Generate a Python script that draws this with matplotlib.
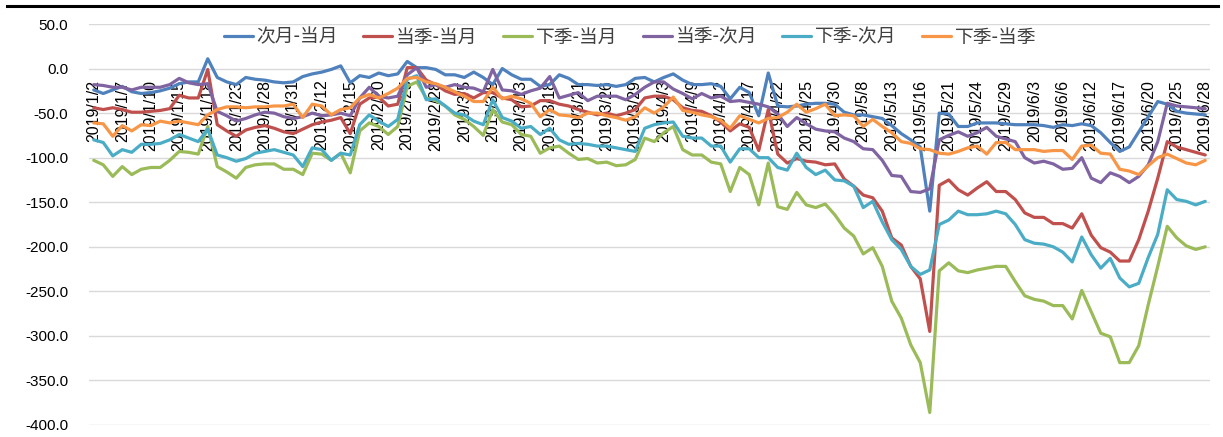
import matplotlib
matplotlib.use("Agg")
import matplotlib.pyplot as plt
from matplotlib.lines import Line2D

# Trading days, first half of 2019
trading_days = {
    1: [2, 3, 4, 7, 8, 9, 10, 11, 14, 15, 16, 17, 18, 21, 22, 23, 24, 25, 28, 29, 30, 31],
    2: [1, 11, 12, 13, 14, 15, 18, 19, 20, 21, 22, 25, 26, 27, 28],
    3: [1, 4, 5, 6, 7, 8, 11, 12, 13, 14, 15, 18, 19, 20, 21, 22, 25, 26, 27, 28, 29],
    4: [1, 2, 3, 4, 8, 9, 10, 11, 12, 15, 16, 17, 18, 19, 22, 23, 24, 25, 26, 29, 30],
    5: [6, 7, 8, 9, 10, 13, 14, 15, 16, 17, 20, 21, 22, 23, 24, 27, 28, 29, 30, 31],
    6: [3, 4, 5, 6, 10, 11, 12, 13, 14, 17, 18, 19, 20, 21, 24, 25, 26, 27, 28],
}
dates = [f"2019/{m}/{d}" for m, days in trading_days.items() for d in days]

next_minus_current = [
    -24, -28, -24, -20, -26, -28, -27, -25, -22, -17, -15, -15, 11, -10, -15, -18,
    -10, -12, -13, -15, -16, -15, -9, -6, -4, -1, 3, -16, -8, -10, -5, -8,
    -6, 8, 1, 1, -1, -7, -7, -10, -4, -10, -18, 0, -7, -12, -12, -20,
    -18, -7, -11, -18, -18, -19, -18, -20, -18, -11, -10, -15, -10, -6, -13, -18,
    -18, -17, -20, -34, -21, -27, -53, -5, -42, -43, -42, -40, -39, -39, -40, -49,
    -52, -52, -54, -56, -64, -73, -80, -88, -160, -50, -51, -65, -65, -61, -61, -61,
    -62, -63, -63, -63, -64, -66, -63, -64, -62, -64, -72, -83, -93, -88, -71, -54,
    -37, -40, -48, -50, -51, -52,
]
quarter_minus_current = [
    -44, -46, -44, -46, -49, -49, -48, -47, -45, -30, -33, -33, -1, -63, -70, -76,
    -69, -66, -64, -67, -71, -73, -68, -63, -60, -58, -55, -73, -40, -33, -32, -42,
    -40, 1, 1, -13, -18, -25, -29, -28, -33, -27, -27, -33, -35, -43, -42, -36,
    -36, -40, -42, -46, -49, -52, -50, -53, -50, -46, -33, -31, -31, -35, -44, -47,
    -48, -53, -60, -70, -62, -66, -92, -46, -96, -106, -101, -104, -105, -108, -107, -124,
    -132, -142, -145, -160, -190, -198, -222, -236, -295, -131, -125, -136, -142, -134, -127, -138,
    -138, -147, -162, -167, -167, -174, -174, -179, -163, -187, -201, -206, -216, -216, -192, -160,
    -123, -82, -88, -91, -94, -97,
]
next_quarter_minus_current = [
    -103, -108, -121, -110, -119, -113, -111, -111, -103, -93, -94, -96, -65, -110, -116, -123,
    -111, -108, -107, -107, -113, -113, -119, -95, -96, -103, -95, -117, -70, -61, -65, -74,
    -65, -20, -15, -33, -36, -42, -52, -57, -65, -75, -46, -60, -63, -74, -76, -95,
    -89, -87, -95, -102, -101, -106, -105, -109, -108, -102, -78, -82, -72, -65, -91, -97,
    -97, -105, -107, -138, -111, -119, -153, -106, -155, -158, -139, -153, -156, -152, -164, -179,
    -188, -208, -201, -222, -261, -280, -310, -330, -386, -227, -218, -227, -229, -226, -224, -222,
    -222, -239, -255, -259, -261, -266, -266, -281, -249, -273, -297, -301, -330, -330, -311, -265,
    -222, -177, -190, -199, -203, -200,
]
quarter_minus_next = [
    -18, -19, -21, -21, -24, -21, -21, -21, -18, -11, -16, -18, -17, -48, -53, -59,
    -56, -52, -49, -50, -54, -56, -54, -50, -53, -52, -50, -53, -33, -21, -31, -33,
    -31, -7, 1, -21, -18, -21, -18, -21, -22, -26, -1, -24, -25, -29, -25, -22,
    -9, -33, -30, -27, -36, -31, -31, -31, -35, -29, -21, -15, -15, -23, -28, -34,
    -28, -33, -31, -37, -36, -38, -40, -43, -51, -65, -55, -62, -68, -70, -71, -78,
    -82, -90, -91, -103, -120, -121, -138, -139, -135, -80, -75, -71, -76, -72, -66, -76,
    -79, -82, -100, -106, -104, -107, -113, -112, -100, -123, -128, -117, -121, -128, -121, -108,
    -82, -39, -42, -43, -44, -45,
]
next_quarter_minus_next = [
    -80, -83, -98, -91, -94, -85, -85, -84, -80, -74, -78, -82, -68, -97, -100, -104,
    -101, -95, -93, -91, -94, -97, -110, -89, -91, -103, -95, -97, -63, -52, -59, -65,
    -57, -12, -8, -35, -34, -42, -50, -52, -59, -63, -35, -55, -59, -67, -65, -74,
    -67, -80, -85, -84, -85, -87, -87, -89, -91, -93, -67, -63, -61, -60, -76, -78,
    -78, -87, -87, -105, -90, -90, -100, -100, -111, -114, -95, -111, -119, -114, -125, -126,
    -132, -156, -149, -172, -192, -203, -222, -231, -226, -175, -170, -160, -164, -164, -163, -160,
    -163, -175, -192, -196, -197, -200, -206, -217, -189, -209, -224, -213, -235, -245, -241, -212,
    -186, -136, -147, -149, -153, -149,
]
next_quarter_minus_quarter = [
    -61, -62, -76, -64, -70, -63, -64, -59, -61, -59, -61, -63, -52, -46, -43, -43,
    -44, -43, -43, -42, -42, -40, -55, -40, -42, -52, -46, -44, -33, -29, -33, -28,
    -22, -11, -10, -15, -17, -21, -26, -31, -37, -37, -21, -34, -31, -34, -39, -54,
    -46, -52, -53, -55, -50, -50, -53, -55, -58, -54, -44, -50, -43, -32, -47, -49,
    -52, -54, -58, -67, -53, -57, -61, -56, -55, -49, -40, -49, -45, -40, -53, -52,
    -53, -65, -57, -65, -72, -82, -84, -90, -91, -95, -96, -93, -89, -87, -96, -83,
    -83, -91, -91, -91, -93, -92, -92, -102, -87, -86, -95, -96, -113, -115, -119, -109,
    -100, -96, -101, -106, -108, -103,
]

series_names = ["次月-当月", "当季-当月", "下季-当月", "当季-次月", "下季-次月", "下季-当季"]
series_values = [
    next_minus_current, quarter_minus_current, next_quarter_minus_current,
    quarter_minus_next, next_quarter_minus_next, next_quarter_minus_quarter,
]
series_colors = ["#4F81BD", "#C0504D", "#9BBB59", "#8064A2", "#4BACC6", "#F79646"]

y_ticks = [50, 0, -50, -100, -150, -200, -250, -300, -350, -400]
label_step = 3

W, H = 1223, 437
fig = plt.figure(figsize=(W / 100, H / 100), dpi=100)
fig.patch.set_facecolor("white")
ax = fig.add_axes([89 / W, 12 / H, (1210 - 89) / W, (425 - 24) / H])

x = list(range(len(dates)))
for name, vals, col in zip(series_names, series_values, series_colors):
    ax.plot(x, vals, color=col, lw=2.3, label=name, solid_joinstyle="round",
            solid_capstyle="round", zorder=3)

ax.set_xlim(-0.5, len(dates) - 0.5)
ax.set_ylim(-400, 50)
ax.set_yticks(y_ticks)
ax.set_yticklabels([f"{v:.1f}" for v in y_ticks], fontsize=11,
                   family=["Liberation Sans", "DejaVu Sans"])
ax.tick_params(axis="y", length=0, pad=15)
ax.set_xticks([])
for s in ax.spines.values():
    s.set_visible(False)
ax.grid(axis="y", color="#D9D9D9", lw=1.0, zorder=0)
ax.set_axisbelow(True)

# category labels sit on the zero line, rotated, beneath the series
for i in range(0, len(dates), label_step):
    ax.annotate(dates[i], xy=(i, 0), xytext=(0, -8), textcoords="offset points",
                rotation=90, ha="center", va="top", fontsize=11.5,
                family=["Liberation Sans", "DejaVu Sans"], color="#000000", zorder=2)

leg = fig.legend(loc="center", bbox_to_anchor=(630 / W, 1 - 37 / H), ncol=6,
                 frameon=False, prop={"family": ["Noto Sans CJK SC", "DejaVu Sans"], "size": 13.5},
                 handlelength=1.55, handletextpad=0.2, columnspacing=1.35)
for t in leg.get_texts():
    t.set_color("#404040")

fig.add_artist(Line2D([7 / W, 1218 / W], [1 - 6 / H, 1 - 6 / H], color="black", lw=2.2))

fig.savefig("out.png", dpi=100)
